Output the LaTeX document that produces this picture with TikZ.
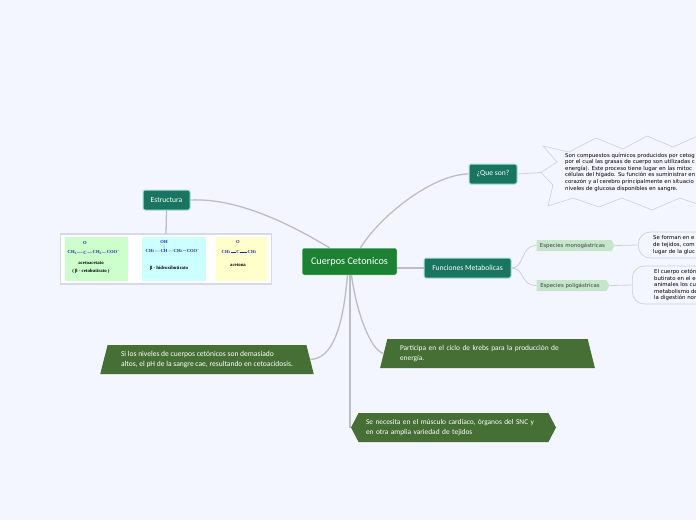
\documentclass[tikz,border=0pt]{standalone}
\usepackage{fontspec}
\setmainfont{Carlito}
\newfontfamily\smallf{DejaVu Sans}
\newfontfamily\chemf{Liberation Serif}
\usetikzlibrary{shapes.geometric,shapes.symbols}
\definecolor{bgc}{HTML}{F3F6FF}
\definecolor{rootc}{HTML}{1B8233}
\definecolor{mainc}{HTML}{1A7560}
\definecolor{mainb}{HTML}{A5E3D5}
\definecolor{leafc}{HTML}{466F35}
\definecolor{linec}{HTML}{BDBDC2}
\definecolor{specc}{HTML}{C5E6CB}
\definecolor{outl}{HTML}{CBD0DC}
\definecolor{chemb}{HTML}{2030A0}
\definecolor{pgreen}{HTML}{CCFFCC}
\definecolor{pcyan}{HTML}{CCFFFF}
\definecolor{pyellow}{HTML}{FFFFCC}
\definecolor{imgb}{HTML}{D8D9E8}
\tikzset{
 conn/.style={draw=linec,line width=1.3pt},
 vert conn/.style={draw=linec,line width=2.3pt},
 thin conn/.style={draw=outl,line width=.8pt},
 rootbox/.style={fill=rootc,draw=white,line width=.5pt,rounded corners=2pt,text=white,font=\fontsize{10.2}{12}\selectfont,minimum width=95pt,minimum height=27pt,inner sep=0pt},
 mainbox/.style={fill=mainc,draw=mainb,line width=1pt,rounded corners=2pt,text=white,font=\fontsize{7.6}{10}\selectfont,minimum height=20pt,inner sep=0pt},
 leaftrap/.style={trapezium,trapezium stretches=true,fill=leafc,text=white,font=\fontsize{7.4}{10}\selectfont,align=left,inner sep=0pt,minimum height=29pt,trapezium left angle=69,trapezium right angle=69},
 leafhex/.style={signal,signal to=east and west,signal pointer angle=125,fill=leafc,text=white,font=\fontsize{7.4}{10}\selectfont,align=left,inner sep=0pt,minimum height=29pt,minimum width=205pt},
 spec/.style={signal,signal to=east,signal pointer angle=120,fill=specc,inner sep=0pt,minimum height=11pt,font=\smallf\fontsize{5.4}{7}\selectfont,text=black!75},
 notebox/.style={draw=outl,line width=.7pt,fill=bgc,rounded corners=12pt,inner sep=0pt},
 smalltxt/.style={font=\smallf\fontsize{5.4}{6.6}\selectfont,align=left,inner sep=0pt,text=black},
 chem/.style={font=\chemf\bfseries\fontsize{4.6}{5}\selectfont,text=chemb,inner sep=.5pt},
 chemlab/.style={font=\chemf\bfseries\fontsize{4.8}{6}\selectfont,text=black,inner sep=0pt}
}
\newcommand{\subc}[1]{\raisebox{-.8pt}{\fontsize{3.4}{4}\selectfont #1}}
\begin{document}
\begin{tikzpicture}[x=1pt,y=-1pt]
\useasboundingbox (0,0) rectangle (696,520);
\clip (0,0) rectangle (696,520);
\fill[bgc] (0,0) rectangle (696,520);
% nodes
\node[rootbox] (root) at (349.5,261.5) {Cuerpos Cetonicos};
\node[mainbox,minimum width=48pt] (que) at (493,174) {¿Que son?};
\node[mainbox,minimum width=87pt] (fun) at (467.5,268) {Funciones Metabolicas};
\node[mainbox,minimum width=47pt] (est) at (166.5,200) {Estructura};
\node[draw=imgb,fill=white,line width=1.3pt,minimum width=211pt,minimum height=50pt,inner sep=0pt] (img) at (166,259) {};
\node[leaftrap,minimum width=214pt,font=\fontsize{7.55}{10}\selectfont] (t1) at (207,359.5) {Si los niveles de cuerpos cetónicos son demasiado\\altos, el pH de la sangre cae, resultando en cetoacidosis.};
\node[leaftrap,minimum width=215pt,text width=175pt] (t2) at (487.5,353.5) {Participa en el ciclo de krebs para la producción de\\energía.};
\node[leafhex,text width=175pt] (t3) at (453.5,427.5) {Se necesita en el músculo cardíaco, órganos del SNC y\\en otra amplia variedad de tejidos};
\node[spec,minimum width=78pt] (m) at (574,245.5) {Especies monogástricas\kern3pt};
\node[spec,minimum width=73pt] (p) at (571.5,285.5) {Especies poligástricas\kern3pt};
\node[notebox,minimum width=90pt,minimum height=26pt,anchor=west] (n1) at (638,245) {};
\node[notebox,minimum width=95pt,minimum height=38pt,anchor=west] (n2) at (632,285) {};
\node[smalltxt,anchor=west] (n1t) at (653,245) {Se forman en e\\de tejidos, com\\lugar de la gluc};
\node[smalltxt,anchor=west] (n2t) at (654,285) {El cuerpo cetón\\butirato en el e\\animales los cu\\metabolismo de\\la digestión nor};
% callout
\coordinate (cl) at (541,172.5);
\draw[draw=outl,line width=.6pt,fill=bgc] (543,146) -- (569,152) -- (596,138) -- (623,149) -- (647,136) -- (673,147) -- (700,135) -- (700,205) -- (680,198) -- (652,210) -- (622,198) -- (599,207) -- (573,198) -- (548,206) -- (553,185) -- (541,172.5) -- (557,162) -- cycle;
\node[smalltxt,anchor=north west] (ct) at (565,152.5) {Son compuestos químicos producidos por cetog\\por el cual las grasas de cuerpo son utilizadas c\\energía). Este proceso tiene lugar en las mitoc\\células del hígado. Su función es suministrar en\\corazón y al cerebro principalmente en situacio\\niveles de glucosa disponibles en sangre.};
% image panels
\fill[pgreen] (65,237) rectangle (128,281);
\fill[pcyan] (142,237) rectangle (206,281);
\fill[pyellow] (216,237) rectangle (267,281);
\node[chem] (a1) at (72,252.5) {CH\subc{3}};
\node[chem] (a2) at (85,252.5) {C};
\node[chem] (a3) at (97,252.5) {CH\subc{2}};
\node[chem] (a4) at (113,252) {COO\raisebox{1pt}{\fontsize{3.4}{4}\selectfont −}};
\node[chem] (a5) at (85,243) {O};
\draw[chemb,line width=.25pt] (a1)--(a2) (a2)--(a3) (a3)--(a4);
\draw[chemb,line width=.2pt,double=pgreen,double distance=.5pt] (a2)--(a5);
\node[chemlab] (a6) at (91,263) {acetoacetato};
\node[chemlab] (a7) at (91,271) {( β - cetobutirato )};
\node[chem] (b1) at (150,251) {CH\subc{3}};
\node[chem] (b2) at (164,251) {CH};
\node[chem] (b3) at (178,251) {CH\subc{2}};
\node[chem] (b4) at (193,250.5) {COO\raisebox{1pt}{\fontsize{3.4}{4}\selectfont −}};
\node[chem] (b5) at (164,242) {OH};
\draw[chemb,line width=.25pt] (b1)--(b2) (b2)--(b3) (b3)--(b4) (b2)--(b5);
\node[chemlab] (b6) at (169,268) {β - hidroxibutirato};
\node[chem] (c1) at (226,252) {CH\subc{3}};
\node[chem] (c2) at (238,252) {C};
\node[chem] (c3) at (252,252) {CH\subc{3}};
\node[chem] (c5) at (238,242) {O};
\draw[chemb,line width=.25pt] (c1)--(c2) (c2)--(c3);
\draw[chemb,line width=.2pt,double=pyellow,double distance=.5pt] (c2)--(c5);
\node[chemlab] (c6) at (238,265) {acetona};
% connectors
\draw[conn] ([xshift=11pt]root.north) .. controls +(22,-35) and (435,174) .. (que.west);
\draw[conn] (est.east) .. controls (235,198) and (285,221) .. ([xshift=-20pt]root.north);
\draw[conn] (root.east |- fun.west) -- (fun.west);
\draw[conn] (est.south) -- (img.north);
\draw[conn] ([xshift=-2pt]root.south) .. controls (345,300) and (340,359) .. (t1.east);
\draw[conn] ([xshift=2pt]root.south) .. controls (356,310) and (370,350) .. (t2.west);
\draw[vert conn] ([xshift=.5pt]root.south) -- ([xshift=.5pt]root.south |- t3.west);
\draw[thin conn] (fun.east) .. controls (525,268) and (520,245.5) .. (m.west);
\draw[thin conn] (fun.east) .. controls (525,268) and (520,285.5) .. (p.west);
\draw[thin conn] (m.east) -- (n1.west);
\draw[thin conn] (p.east) -- (n2.west);
\draw[thin conn] (que.east) -- (cl);
\end{tikzpicture}
\end{document}
